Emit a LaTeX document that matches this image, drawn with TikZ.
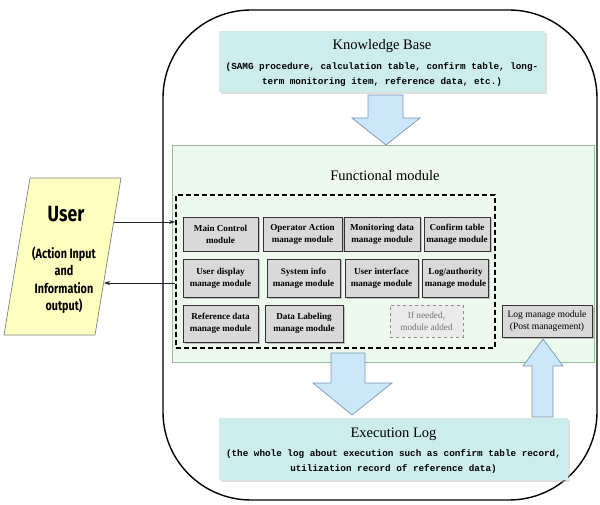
\documentclass[tikz,border=0pt]{standalone}
\usepackage{fontspec}
\setmainfont{Liberation Serif}
\newfontfamily\monof{Liberation Mono}
\newfontfamily\userf[FakeStretch=0.8]{Fira Sans}
\usetikzlibrary{shadows,arrows.meta}
\definecolor{kbfill}{RGB}{205,236,236}
\definecolor{greenfill}{RGB}{236,249,236}
\definecolor{greenline}{RGB}{150,190,150}
\definecolor{modfill}{RGB}{217,217,217}
\definecolor{arrfill}{RGB}{204,230,250}
\definecolor{arrline}{RGB}{120,150,180}
\definecolor{userfill}{RGB}{255,255,192}
\tikzset{
  infobox/.style={fill=kbfill, draw=none, drop shadow={shadow xshift=2pt, shadow yshift=-2pt, fill=black!25}, inner sep=0pt},
  titletext/.style={font=\fontsize{14.5}{17}\selectfont},
  subtext/.style={font=\monof\bfseries\fontsize{9.3}{15}\selectfont, align=center},
  modbox/.style={fill=modfill, draw=black!80, line width=0.8pt, drop shadow={shadow xshift=1.5pt, shadow yshift=-1.5pt, fill=black!45}, align=center, inner sep=0pt, font=\fontsize{9.1}{12}\selectfont\bfseries},
  fatarrow/.style={fill=arrfill, draw=arrline, line width=0.7pt},
  conn/.style={draw=black!85, line width=0.7pt, -{Stealth[length=6pt,width=4pt]}},
}
\begin{document}
\begin{tikzpicture}[x=1pt,y=-1pt]
\useasboundingbox (0,0) rectangle (600,505);
% functional module area
\node[fill=greenfill, draw=greenline, line width=0.7pt, minimum width=422, minimum height=217, inner sep=0pt] (func) at (383,253.5) {};
% outer frame
\draw[line width=1.4pt, rounded corners=88pt] (163,10) rectangle (597,500);
% knowledge base
\node[infobox, minimum width=326, minimum height=61] (kb) at (382,61.5) {};
\node[titletext] (kbt) at (382,46) {Knowledge Base};
\node[subtext] (kbs) at (382,75) {(SAMG procedure, calculation table, confirm table, long-\\term monitoring item, reference data, etc.)};
% execution log
\node[infobox, minimum width=349, minimum height=62] (exe) at (393.5,449) {};
\node[titletext] (exet) at (393.5,434) {Execution Log};
\node[subtext] (exes) at (393.5,462) {(the whole log about execution such as confirm table record,\\utilization record of reference data)};
% title
\node[font=\fontsize{14.5}{16}\selectfont] (ftitle) at (385,176) {Functional module};
% dashed module container
\node[draw=black, line width=1.8pt, dash pattern=on 5pt off 3pt, minimum width=319, minimum height=153, inner sep=0pt] (dash) at (335.5,271.5) {};
% modules row 1
\node[modbox, minimum width=75, minimum height=34] (mc) at (220.5,234) {Main Control\\module};
\node[modbox, minimum width=79, minimum height=34] (oa) at (302.5,234) {Operator Action\\manage module};
\node[modbox, minimum width=76, minimum height=34] (md) at (382,234) {Monitoring data\\manage module};
\node[modbox, minimum width=66, minimum height=34] (ct) at (457,234) {Confirm table\\manage module};
% row 2
\node[modbox, minimum width=75, minimum height=38] (ud) at (220.5,278) {User display\\manage module};
\node[modbox, minimum width=73, minimum height=38] (si) at (303.5,278) {System info\\manage module};
\node[modbox, minimum width=73, minimum height=38] (ui) at (381.5,278) {User interface\\manage module};
\node[modbox, minimum width=66, minimum height=38] (la) at (455.5,278) {Log/authority\\manage module};
% row 3
\node[modbox, minimum width=75, minimum height=37] (rd) at (220.5,323.5) {Reference data\\manage module};
\node[modbox, minimum width=78, minimum height=37] (dl) at (304,323.5) {Data Labeling\\manage module};
\node[fill=black!8, draw=black!45, line width=1pt, dashed, text=black!55, align=center, inner sep=0pt, minimum width=73, minimum height=32, font=\fontsize{9.3}{12}\selectfont] (ifn) at (426.5,321) {If needed,\\module added};
% log manage module
\node[modbox, font=\fontsize{9.6}{12}\selectfont, minimum width=90, minimum height=32] (lm) at (547,321) {Log manage module\\(Post management)};
% big arrows
\draw[fatarrow] (368,95) -- (403,95) -- (403,118) -- (420,118) -- (386,145) -- (352,118) -- (368,118) -- cycle;
\draw[fatarrow] (331,353) -- (365,353) -- (365,383) -- (392,383) -- (352,415) -- (313,383) -- (331,383) -- cycle;
\draw[fatarrow] (532,417) -- (553,417) -- (553,366) -- (563,366) -- (543,339) -- (523,366) -- (532,366) -- cycle;
% user
\draw[fill=userfill, draw=black!50, line width=0.7pt] (30,178) -- (121,178) -- (95,335) -- (4,335) -- cycle;
\node[font=\userf\bfseries\fontsize{22}{24}\selectfont] (user) at (66,214) {User};
\node[font=\userf\bfseries\fontsize{13.5}{17.5}\selectfont, align=center] (usersub) at (64,280) {(Action Input\\and\\Information\\output)};
\coordinate (u1) at (114,222);
\coordinate (u2) at (104,283);
\draw[conn] (u1) -- (u1 -| dash.west);
\draw[conn] (u2 -| dash.west) -- (u2);
\end{tikzpicture}
\end{document}
